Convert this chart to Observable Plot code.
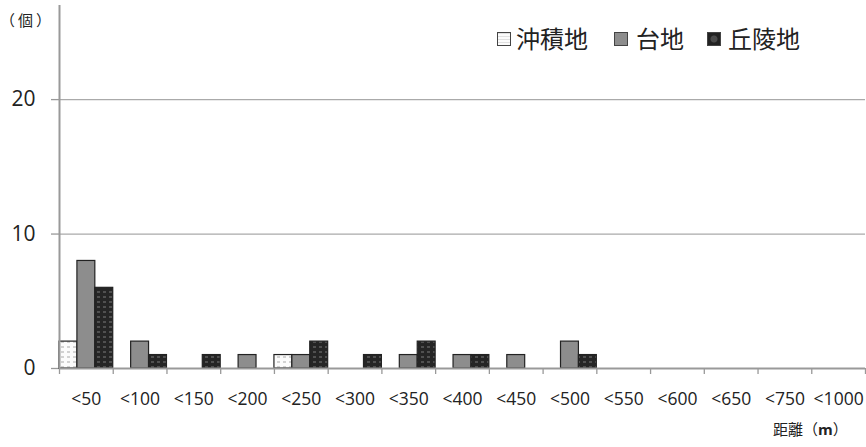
<!DOCTYPE html>
<html>
<head>
<meta charset="utf-8">
<script src="https://cdn.jsdelivr.net/npm/d3@7"></script>
<script src="https://cdn.jsdelivr.net/npm/@observablehq/plot@0.6"></script>
<style>
  body { margin: 0; background: #fff; }
  #wrap { position: relative; width: 866px; height: 447px; font-family: "Open Sans", "Noto Sans CJK JP", sans-serif; color: #222; }
  .cjk { font-family: "Noto Sans CJK JP", sans-serif; }
  .ov { position: absolute; white-space: nowrap; line-height: 1; }
  .sq { position: absolute; width: 12px; height: 12px; border: 1px solid #444; }
</style>
</head>
<body>
<div id="wrap"></div>
<script>
// ---- data ----
const categories = ["<50", "<100", "<150", "<200", "<250", "<300", "<350", "<400", "<450", "<500", "<550", "<600", "<650", "<750", "<1000"];
const seriesNames = ["沖積地", "台地", "丘陵地"];
const alluvial = [2, 0, 0, 0, 1, 0, 0, 0, 0, 0, 0, 0, 0, 0, 0];
const upland   = [8, 2, 0, 1, 1, 0, 1, 1, 1, 2, 0, 0, 0, 0, 0];
const hill     = [6, 1, 1, 0, 2, 1, 2, 1, 0, 1, 0, 0, 0, 0, 0];
const yTicks = [0, 10, 20];

const seriesValues = [alluvial, upland, hill];
const fills = ["url(#pat-alluvial)", "#8d8d8d", "url(#pat-hill)"];

const rows = seriesNames.flatMap((s, k) =>
  categories.map((c, i) => ({ category: c, i, k, series: s, value: seriesValues[k][i] }))
).filter(d => d.value > 0);

const n = categories.length;

const chart = Plot.plot({
  width: 866,
  height: 447,
  marginLeft: 59,
  marginRight: 1,
  marginTop: 5,
  marginBottom: 79,
  style: { fontFamily: '"Open Sans", "Noto Sans CJK JP", sans-serif', color: "#222", background: "#fff", overflow: "visible" },
  x: { domain: [0, n], axis: null },
  y: { domain: [0, 27], axis: null },
  marks: [
    Plot.gridY([10, 20], { stroke: "#aaaaaa", strokeOpacity: 1, strokeWidth: 1.3 }),
    Plot.axisY(yTicks, { tickSize: 8, tickPadding: 16, fontSize: 21, stroke: "#999", strokeWidth: 1.3, fill: "#222", label: null }),
    Plot.axisX(d3.range(n + 1), { tickSize: 6, tickFormat: () => "", stroke: "#999", strokeWidth: 1.3, label: null }),
    Plot.axisX(d3.range(n).map(i => i + 0.5), { tickSize: 0, tickPadding: 24, fontSize: 17.5, fill: "#222", tickFormat: v => categories[Math.floor(v)], label: null }),
    ...seriesNames.map((s, k) =>
      Plot.rectY(rows.filter(d => d.k === k), {
        x1: d => d.i + k / 3,
        x2: d => d.i + (k + 1) / 3,
        y: "value",
        fill: fills[k],
        stroke: "#222",
        strokeWidth: 1.2
      })
    ),
    Plot.ruleX([0], { stroke: "#999", strokeWidth: 2 }),
    Plot.ruleY([0], { stroke: "#999", strokeWidth: 2 })
  ]
});

const svg = chart.tagName.toLowerCase() === "svg" ? chart : chart.querySelector("svg");
const NS = "http://www.w3.org/2000/svg";
const defs = document.createElementNS(NS, "defs");
defs.innerHTML = `
  <pattern id="pat-alluvial" patternUnits="userSpaceOnUse" width="6" height="5">
    <rect width="6" height="5" fill="#fbfbfb"/>
    <rect x="1" y="1" width="3" height="2" fill="#d2d2d2"/>
  </pattern>
  <pattern id="pat-hill" patternUnits="userSpaceOnUse" width="6" height="5">
    <rect width="6" height="5" fill="#252525"/>
    <rect x="1" y="1" width="3" height="2" fill="#505050"/>
  </pattern>`;
svg.insertBefore(defs, svg.firstChild);

const wrap = document.getElementById("wrap");
wrap.appendChild(chart);

// y-axis title
const yt = document.createElement("div");
yt.className = "ov cjk";
yt.style.cssText = "left:0px;top:12px;font-size:15px;letter-spacing:3px;";
yt.textContent = "（個）";
wrap.appendChild(yt);

// x-axis title
const xt = document.createElement("div");
xt.className = "ov cjk";
xt.style.cssText = "left:773px;top:421px;font-size:15px;";
xt.innerHTML = '距離（<b style="font-family:\'Open Sans\',sans-serif">m</b>）';
wrap.appendChild(xt);

// legend
const legendPos = [
  { sq: 497, tx: 516 },
  { sq: 614, tx: 636 },
  { sq: 707, tx: 728 }
];
const legendBg = [
  "repeating-linear-gradient(0deg,#fbfbfb 0 2px,#e0e0e0 2px 3px)",
  "#8d8d8d",
  "radial-gradient(circle,#4a4a4a 0 3px,#222 4px)"
];
seriesNames.forEach((s, k) => {
  const sq = document.createElement("div");
  sq.className = "sq";
  sq.style.left = legendPos[k].sq + "px";
  sq.style.top = "32px";
  sq.style.background = legendBg[k];
  wrap.appendChild(sq);
  const t = document.createElement("div");
  t.className = "ov cjk";
  t.style.cssText = `left:${legendPos[k].tx}px;top:26px;font-size:24px;`;
  t.textContent = s;
  wrap.appendChild(t);
});
</script>
</body>
</html>
